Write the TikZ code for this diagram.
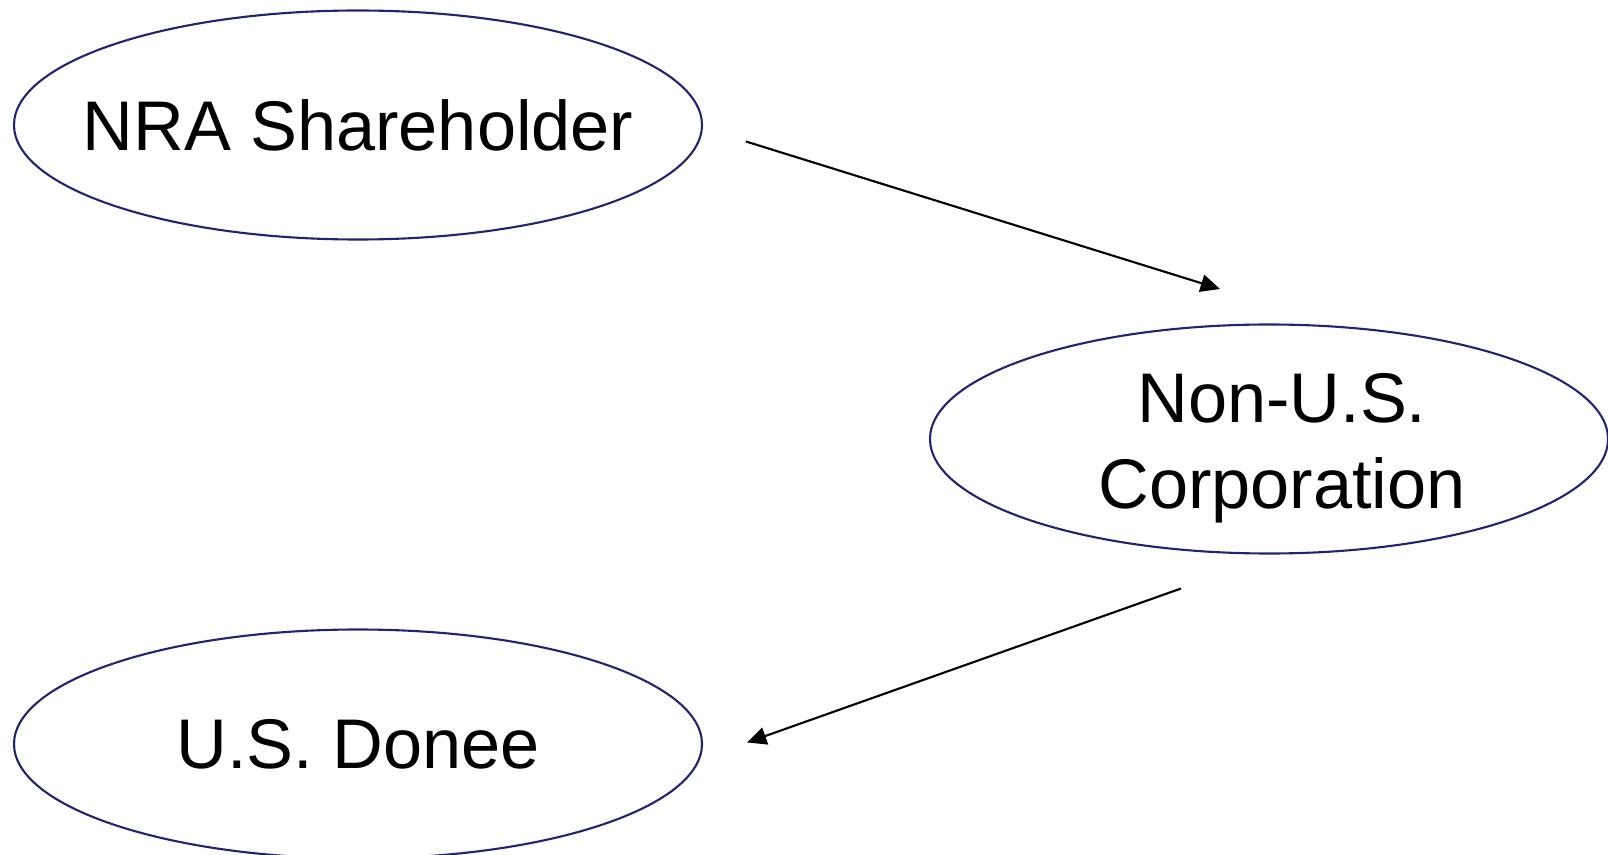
\documentclass[tikz,border=0pt]{standalone}
\usepackage{fontspec}
\setmainfont{Liberation Sans}
\usetikzlibrary{shapes.geometric,arrows.meta}

\definecolor{rimblue}{RGB}{35,35,115}

\tikzstyle{line} = [draw, line width=0.6pt, -{Triangle[length=5.5pt,width=5pt]}]
\tikzstyle{party} = [ellipse, draw=rimblue, line width=0.6pt, inner ysep=0pt, inner xsep=-1cm, align=center, minimum width=6.88cm, minimum height=2.29cm, font=\fontsize{20}{24.5}\selectfont]

\begin{document}
\begin{tikzpicture}[]
		\useasboundingbox (0,0) rectangle (16.08,8.54);
		
		%parties
		\node[party](nra) at (3.58,7.29) {NRA Shareholder};
		\node[party,minimum width=6.78cm,label={[align=center,font=\fontsize{20}{24.5}\selectfont,xshift=0.13cm,yshift=-0.09cm]center:Non-U.S.\\Corporation}](corp) at (12.69,4.15) {};
		\node[party](donee) at (3.58,1.10) {U.S. Donee};
		%arrow ends
		\coordinate (nraout) at (7.46,7.125);
		\coordinate (corpin) at (12.20,5.65);
		\coordinate (corpout) at (11.81,2.655);
		\coordinate (doneein) at (7.47,1.115);
		%arrows
		\draw[line] (nraout) -- (corpin);
		\draw[line] (corpout) -- (doneein);
		\end{tikzpicture}
\end{document}
